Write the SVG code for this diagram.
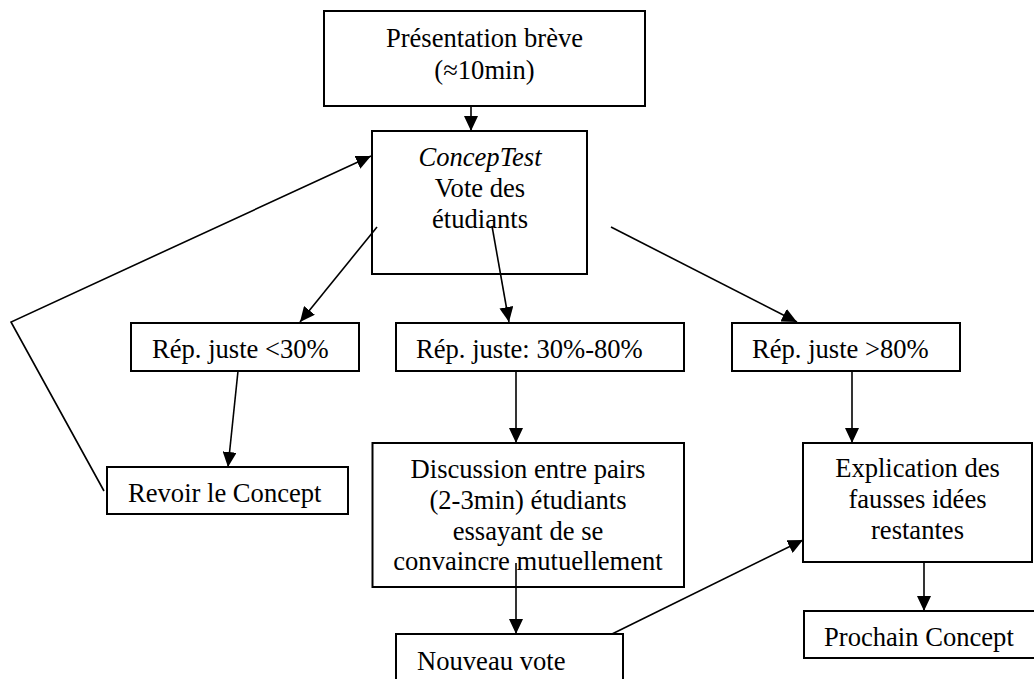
<svg xmlns="http://www.w3.org/2000/svg" width="1034" height="679" viewBox="0 0 1034 679">
<style>
.box{fill:#fff;stroke:#000;stroke-width:2}
.t{font-family:"Liberation Serif","Times New Roman",serif;font-size:26.6px;fill:#000}
.c{text-anchor:middle}
.conn line,.conn polyline{stroke:#000;stroke-width:1.6;fill:none}
</style>
<defs>
<marker id="ah" markerUnits="userSpaceOnUse" markerWidth="16" markerHeight="14" refX="15" refY="7" orient="auto">
<path d="M0,0 L15,7 L0,14 z" fill="#000"/>
</marker>
</defs>
<rect width="1034" height="679" fill="#fff"/>
<g id="n-presentation">
<rect class="box" x="324" y="11" width="321" height="95"/>
<text class="t c" x="484.5" y="46.5">Présentation brève</text>
<text class="t c" x="484.5" y="78.5">(≈10min)</text>
</g>
<g id="n-conceptest">
<rect class="box" x="372" y="131" width="215" height="143"/>
<text class="t c" x="480" y="166" font-style="italic">ConcepTest</text>
<text class="t c" x="480" y="197">Vote des</text>
<text class="t c" x="480" y="228">étudiants</text>
</g>
<g id="n-low">
<rect class="box" x="131" y="323" width="228" height="48"/>
<text class="t" x="152" y="358">Rép. juste &lt;30%</text>
</g>
<g id="n-mid">
<rect class="box" x="396" y="323" width="288" height="48"/>
<text class="t" x="416" y="358">Rép. juste: 30%-80%</text>
</g>
<g id="n-high">
<rect class="box" x="732" y="323" width="228" height="48"/>
<text class="t" x="752" y="358">Rép. juste &gt;80%</text>
</g>
<g id="n-revoir">
<rect class="box" x="107" y="467" width="241" height="47"/>
<text class="t" x="128" y="501.5">Revoir le Concept</text>
</g>
<g id="n-discussion">
<rect class="box" x="372.5" y="443" width="311.5" height="144"/>
<text class="t c" x="528" y="478">Discussion entre pairs</text>
<text class="t c" x="528" y="509">(2-3min) étudiants</text>
<text class="t c" x="528" y="540">essayant de se</text>
<text class="t c" x="528" y="570">convaincre mutuellement</text>
</g>
<g id="n-nouveau">
<rect class="box" x="396" y="634" width="227" height="60"/>
<text class="t" x="417" y="670">Nouveau vote</text>
</g>
<g id="n-explication">
<rect class="box" x="803" y="443" width="229" height="119"/>
<text class="t c" x="917.5" y="477">Explication des</text>
<text class="t c" x="917.5" y="508">fausses idées</text>
<text class="t c" x="917.5" y="539">restantes</text>
</g>
<g id="n-prochain">
<rect class="box" x="804" y="611" width="240" height="47"/>
<text class="t" x="824" y="646">Prochain Concept</text>
</g>
<g id="connectors" class="conn">
<line x1="471" y1="107" x2="471" y2="131" marker-end="url(#ah)"/>
<polyline points="104,491 11,322 371,156" marker-end="url(#ah)"/>
<line x1="377" y1="227" x2="300" y2="322" marker-end="url(#ah)"/>
<line x1="492" y1="226" x2="509" y2="322" marker-end="url(#ah)"/>
<line x1="611" y1="227" x2="797" y2="322" marker-end="url(#ah)"/>
<line x1="238" y1="371" x2="228" y2="467" marker-end="url(#ah)"/>
<line x1="516" y1="371" x2="516" y2="443" marker-end="url(#ah)"/>
<line x1="516" y1="563" x2="516" y2="634" marker-end="url(#ah)"/>
<line x1="852" y1="371" x2="852" y2="443" marker-end="url(#ah)"/>
<line x1="924" y1="562" x2="924" y2="611" marker-end="url(#ah)"/>
<line x1="612" y1="634" x2="803" y2="540" marker-end="url(#ah)"/>
</g>
</svg>
